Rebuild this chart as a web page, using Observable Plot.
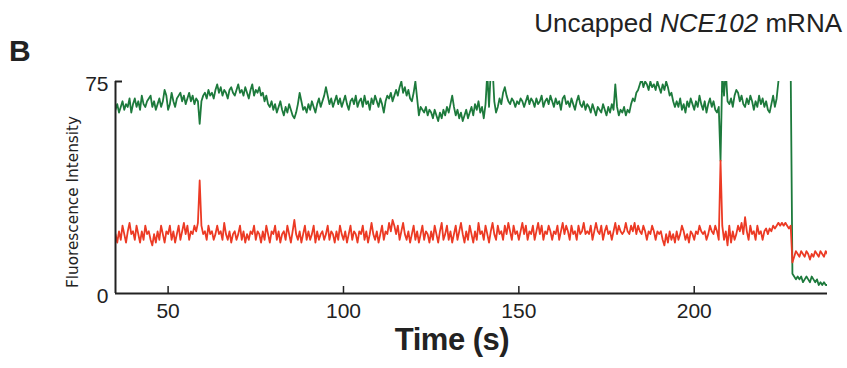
<!DOCTYPE html>
<html>
<head>
<meta charset="utf-8">
<script src="https://cdn.jsdelivr.net/npm/d3@7"></script>
<script src="https://cdn.jsdelivr.net/npm/@observablehq/plot@0.6"></script>
<style>
  body { margin: 0; background: #fff; }
  #wrap { position: relative; width: 847px; height: 368px; overflow: hidden; }
  .lbl { position: absolute; white-space: nowrap; color: #222; font-family: "Liberation Sans", Arial, sans-serif; }
</style>
</head>
<body>
<div id="wrap">
  <div id="chart"></div>
  <div class="lbl" id="panel" style="left:9px; top:34px; font-size:30px; font-weight:bold;">B</div>
  <div class="lbl" id="title" style="right:5px; top:8px; font-size:26px;">Uncapped <i>NCE102</i> mRNA</div>
  <div class="lbl" id="xlab" style="left:452px; top:322px; transform:translateX(-50%); font-size:31px; font-weight:bold; letter-spacing:-0.5px;">Time (s)</div>
  <div class="lbl" id="ylab" style="left:73px; top:202px; transform:translate(-50%,-50%) rotate(-90deg); font-family:'DejaVu Sans',sans-serif; font-size:15.3px;">Fluorescence Intensity</div>
</div>
<script>
// sampling: first frame time and frame interval (s)
const tStart = 35;
const frameStep = 0.5;

// axis ticks
const xTicks = [50, 100, 150, 200];
const yTicks = [0, 75];

// green (donor) channel intensity, one value per frame from 35 s to 238 s
const green = [
  65,67,64,66,68,65,67,66,69,64,
  67,69,66,68,65,70,67,66,68,69,
  70,66,68,65,67,69,66,68,72,70,
  65,67,71,68,66,69,70,71,68,70,
  67,69,71,68,70,67,69,68,60,68,
  70,71,69,72,70,71,69,72,74,71,
  73,70,72,71,69,72,73,71,70,72,
  74,71,72,70,73,71,69,72,74,70,
  72,71,73,70,71,68,70,67,66,68,
  65,67,64,66,68,65,63,66,64,67,
  65,63,62,64,67,71,68,65,66,64,
  67,65,68,66,64,67,69,66,68,70,
  73,70,67,69,66,68,70,67,69,66,
  68,70,67,65,68,69,67,70,66,68,
  69,66,70,67,68,65,69,67,70,68,
  66,69,67,64,68,70,69,71,68,70,
  72,70,73,75,71,73,70,72,69,68,
  71,75,69,63,66,65,64,66,63,65,
  64,62,65,63,61,64,62,65,63,66,
  64,67,70,66,63,65,62,64,61,63,
  65,62,64,66,63,67,65,68,64,66,
  62,67,78,66,79,80,68,64,66,69,
  67,71,73,70,68,67,69,68,66,68,
  67,69,68,66,68,70,67,69,68,66,
  69,67,68,70,66,68,69,67,70,68,
  66,69,67,68,65,69,70,67,68,66,
  69,67,65,68,70,67,66,68,65,67,
  66,64,67,65,63,66,65,64,67,65,
  63,66,64,67,65,74,66,63,65,64,
  66,63,65,64,67,69,68,71,72,74,
  76,73,75,74,72,75,73,74,72,75,
  73,71,74,72,75,73,70,71,68,66,
  68,66,69,65,67,64,68,66,69,67,
  65,68,66,70,67,65,68,64,67,69,
  66,68,65,64,66,47,78,70,79,68,
  67,69,66,70,72,71,68,70,67,66,
  69,67,70,68,65,68,66,70,67,69,
  66,68,65,64,67,70,66,69,75,80,
  80,80,80,80,80,80,7,6,5,6,
  5,6,4,5,6,5,4,6,5,4,
  5,3,4,3,4,3,3
];

// red (acceptor) channel intensity, same frames
const red = [
  21,18,22,19,24,21,18,22,25,21,
  22,19,24,21,18,22,19,24,21,22,
  19,17,21,18,22,19,24,21,18,22,
  21,24,19,22,18,21,24,19,22,25,
  21,24,19,22,21,24,22,25,40,24,
  21,22,19,24,21,22,19,21,24,21,
  22,19,25,21,19,22,18,21,22,19,
  21,24,19,22,18,21,19,22,21,24,
  19,22,21,18,22,19,24,21,18,22,
  21,24,19,22,18,21,22,19,24,21,
  18,22,26,21,19,22,18,21,24,19,
  22,19,21,24,18,22,19,21,22,19,
  21,24,19,22,21,18,22,19,24,21,
  19,22,18,21,24,19,22,21,18,22,
  21,24,19,22,18,21,25,21,19,22,
  18,21,24,19,22,21,25,22,26,24,
  21,24,19,22,25,21,19,22,18,21,
  24,19,22,18,21,24,19,22,21,18,
  22,19,24,21,18,22,25,19,21,24,
  19,22,18,21,24,19,22,25,21,18,
  22,19,24,21,18,22,19,25,21,22,
  19,24,21,18,22,25,21,19,24,21,
  22,19,24,21,25,22,19,24,21,22,
  19,22,25,21,24,19,22,21,24,19,
  22,25,21,24,19,22,21,24,22,19,
  22,21,24,19,22,25,21,24,22,19,
  24,21,22,19,24,21,22,25,21,22,
  21,24,19,22,25,22,21,24,19,22,
  24,21,22,19,22,25,21,24,22,21,
  22,25,22,21,24,22,25,21,24,22,
  21,24,22,19,22,21,24,22,19,22,
  21,22,19,17,21,18,22,19,21,18,
  22,19,21,24,22,19,21,18,22,21,
  19,22,21,24,22,21,22,19,21,24,
  22,21,24,22,19,47,24,19,22,17,
  24,18,22,19,21,24,22,25,21,27,
  22,19,24,21,22,19,24,21,22,19,
  22,23,21,23,22,24,23,24,25,24,
  25,24,25,24,23,24,11,13,15,14,
  13,15,14,13,15,14,12,14,13,15,
  14,13,15,14,13,15,14
];

const greenData = green.map((v, i) => ({t: tStart + i * frameStep, v}));
const redData = red.map((v, i) => ({t: tStart + i * frameStep, v}));

const W = 847, H = 368, mTop = 81, mBottom = 75, mLeft = 115, mRight = 20;
const xDomain = [35, 238], yDomain = [0, 75];
const tickLen = 7; // px, ticks point inward
const yPerPx = (yDomain[1] - yDomain[0]) / (H - mTop - mBottom);
const xPerPx = (xDomain[1] - xDomain[0]) / (W - mLeft - mRight);

const chart = Plot.plot({
  width: W,
  height: H,
  marginTop: mTop,
  marginBottom: mBottom,
  marginLeft: mLeft,
  marginRight: mRight,
  style: {fontFamily: "'Liberation Sans', Arial, sans-serif", fontSize: "21px", color: "#222", background: "transparent"},
  x: {domain: xDomain},
  y: {domain: yDomain},
  marks: [
    Plot.axisX({ticks: xTicks, tickSize: 0, tickPadding: 10, label: null, fontSize: 21}),
    Plot.axisY({ticks: yTicks, tickSize: 0, tickPadding: 7, label: null, fontSize: 21, dy: 3}),
    Plot.ruleX(xTicks, {y1: yDomain[0], y2: yDomain[0] + tickLen * yPerPx, stroke: "#222", strokeWidth: 1.5}),
    Plot.ruleY([yTicks[1]], {x1: xDomain[0], x2: xDomain[0] + tickLen * xPerPx, stroke: "#222", strokeWidth: 2}),
    Plot.lineY(greenData, {x: "t", y: "v", stroke: "#1d7a3c", strokeWidth: 1.8, clip: true}),
    Plot.lineY(redData, {x: "t", y: "v", stroke: "#ec3a24", strokeWidth: 1.8, clip: true}),
    Plot.ruleY([0], {stroke: "#222", strokeWidth: 2}),
    Plot.ruleX([35], {stroke: "#222", strokeWidth: 2})
  ]
});
document.getElementById("chart").appendChild(chart);
</script>
</body>
</html>
